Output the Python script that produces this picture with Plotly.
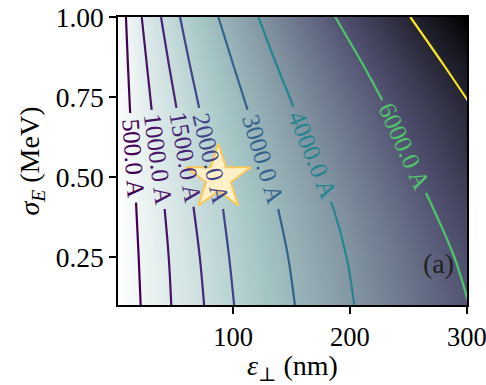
import numpy as np
import plotly.graph_objects as go

# ---- data ----
levels = [500, 1000, 1500, 2000, 3000, 4000, 6000, 8000]
level_labels = ["500.0 A", "1000.0 A", "1500.0 A", "2000.0 A", "3000.0 A", "4000.0 A", "6000.0 A", ""]
level_colors = ["#440154", "#471365", "#482475", "#414487", "#33638d", "#25858e", "#50c46a", "#fde725"]

# sigma_E rows (MeV) at which contour positions (emittance, nm) were read
sigma_rows = [0.10, 0.25, 0.40, 0.55, 0.70, 0.85, 1.00]
eps_500 = [20.9, 19.2, 17.3, 14.6, 11.9, 10.0, 8.3]
eps_1000 = [47.1, 44.9, 41.4, 36.0, 30.6, 26.2, 21.8]
eps_1500 = [75.2, 71.5, 66.4, 59.5, 52.3, 45.1, 38.3]
eps_2000 = [100.9, 96.6, 91.4, 81.7, 71.9, 63.0, 54.6]
eps_3000 = [152.9, 147.1, 138.6, 126.1, 113.3, 100.2, 87.4]
eps_4000 = [203.7, 197.1, 186.0, 170.0, 153.8, 137.3, 121.7]
eps_6000 = [302.0, 289.3, 271.5, 252.2, 233.7, 211.3, 187.4]
eps_8000 = [None, None, None, None, 308.0, 280.3, 251.7]
current_at_eps0 = [100, 110, 125, 140, 160, 175, 190]       # estimated current at left edge
current_at_eps300 = [5990, 6230, 6690, 7270, 7760, 8540, 9500]  # estimated current at right edge

# label gaps (sigma where each contour line is interrupted by its label)
gap_top = [0.700, 0.710, 0.716, 0.716, 0.710, 0.720, 0.740, None]
gap_bottom = [0.420, 0.400, 0.407, 0.400, 0.400, 0.423, 0.450, None]
# label centres (eps, sigma) and angles
label_eps = [14.4, 35.9, 59.2, 81.2, 125.8, 168.0, 246.6]
label_sigma = [0.56, 0.555, 0.56, 0.558, 0.555, 0.57, 0.595]
label_angle = [86, 82.5, 80, 76.8, 73.2, 68.2, 65.8]

star_eps = [87.4]
star_sigma = [0.497]

x_ticks = [100, 200, 300]
x_ticktext = ["100", "200", "300"]
y_ticks = [0.25, 0.50, 0.75, 1.00]
y_ticktext = ["0.25", "0.50", "0.75", "1.00"]

all_eps = [eps_500, eps_1000, eps_1500, eps_2000, eps_3000, eps_4000, eps_6000, eps_8000]

# ---- background field built from the read contour positions ----
eps_f = np.linspace(1.5, 300, 240)
sig_f = np.linspace(0.1, 1.0, 150)
pos_f = []
for arr in all_eps:
    s = [sr for sr, v in zip(sigma_rows, arr) if v is not None]
    v = [vv for vv in arr if vv is not None]
    p = np.interp(sig_f, s, v)
    p[sig_f < min(s)] = np.nan
    pos_f.append(p)
i0_f = np.interp(sig_f, sigma_rows, current_at_eps0)
i300_f = np.interp(sig_f, sigma_rows, current_at_eps300)
Z = np.zeros((len(sig_f), len(eps_f)))
for j in range(len(sig_f)):
    xs = [0.0]
    ys = [i0_f[j]]
    for k, lv in enumerate(levels):
        p = pos_f[k][j]
        if np.isfinite(p) and p < 300:
            xs.append(p)
            ys.append(lv)
    xs.append(300.0)
    ys.append(i300_f[j])
    Z[j] = np.interp(eps_f, xs, ys)

bone_r = [
    [0.0, "rgb(255,255,255)"],
    [0.254, "rgb(166,198,198)"],
    [0.635, "rgb(81,81,113)"],
    [1.0, "rgb(0,0,0)"],
]

fig = go.Figure()
fig.add_trace(go.Heatmap(x=eps_f, y=sig_f, z=Z, colorscale=bone_r, showscale=False,
                         zsmooth="best", hoverinfo="skip"))

for k, lv in enumerate(levels):
    arr = all_eps[k]
    pts = [(v, s) for s, v in zip(sigma_rows, arr) if v is not None]
    pts.sort(key=lambda t: -t[1])
    if gap_top[k] is None:
        xs = [p[0] for p in pts]
        ys = [p[1] for p in pts]
    else:
        s_arr = [p[1] for p in pts][::-1]
        e_arr = [p[0] for p in pts][::-1]
        gt = gap_top[k]
        gb = gap_bottom[k]
        upper = [p for p in pts if p[1] > gt + 0.02]
        lower = [p for p in pts if p[1] < gb - 0.02]
        xs = [p[0] for p in upper] + [float(np.interp(gt, s_arr, e_arr)), None,
                                      float(np.interp(gb, s_arr, e_arr))] + [p[0] for p in lower]
        ys = [p[1] for p in upper] + [gt, None, gb] + [p[1] for p in lower]
    fig.add_trace(go.Scatter(x=xs, y=ys, mode="lines", connectgaps=False,
                             line=dict(color=level_colors[k], width=2.2, shape="spline"),
                             hoverinfo="skip", showlegend=False))

fig.add_trace(go.Scatter(x=star_eps, y=star_sigma, mode="markers",
                         marker=dict(symbol="star", size=49, color="#fff0c8",
                                     line=dict(color="#f9c75b", width=2)),
                         hoverinfo="skip", showlegend=False))

serif = "'Liberation Serif', 'Times New Roman', 'DejaVu Serif', serif"
for k in range(len(label_eps)):
    fig.add_annotation(x=label_eps[k], y=label_sigma[k], xref="x", yref="y",
                       text=level_labels[k], showarrow=False, textangle=label_angle[k],
                       font=dict(family=serif, size=25, color=level_colors[k]))

fig.add_annotation(x=275.7, y=0.231, xref="x", yref="y", text="(a)", showarrow=False,
                   font=dict(family=serif, size=28, color="#222222"))

fig.update_layout(
    width=486, height=385,
    margin=dict(l=118, r=19, t=17, b=80, pad=0, autoexpand=False),
    paper_bgcolor="white", plot_bgcolor="white",
    showlegend=False,
    font=dict(family=serif, color="black"),
    xaxis=dict(range=[1.5, 300.2], tickvals=x_ticks, ticktext=x_ticktext, ticks="outside",
               ticklen=7, tickwidth=1.5, ticklabeloverflow="allow",
               tickcolor="black", showline=True, linecolor="black", linewidth=1.5, mirror=True,
               showgrid=False, zeroline=False, tickfont=dict(family=serif, size=26.5),
               automargin=False,
               title=dict(text="<i>ε</i><sub>⊥</sub> (nm)", font=dict(family=serif, size=28),
                          standoff=4)),
    yaxis=dict(range=[0.1, 1.0], tickvals=y_ticks, ticktext=y_ticktext, ticks="outside",
               ticklen=7, tickwidth=1.5, tickcolor="black", showline=True, linecolor="black",
               linewidth=1.5, mirror=True, showgrid=False, zeroline=False,
               automargin=False, ticklabeloverflow="allow",
               tickfont=dict(family=serif, size=27.5),
               title=dict(text="<i>σ</i><sub><i>E</i></sub> (MeV)", font=dict(family=serif, size=28),
                          standoff=8)),
)

fig.write_html("out.html", config={"displayModeBar": False},
               post_script="document.body.style.margin='0px';document.body.style.padding='0px';")
